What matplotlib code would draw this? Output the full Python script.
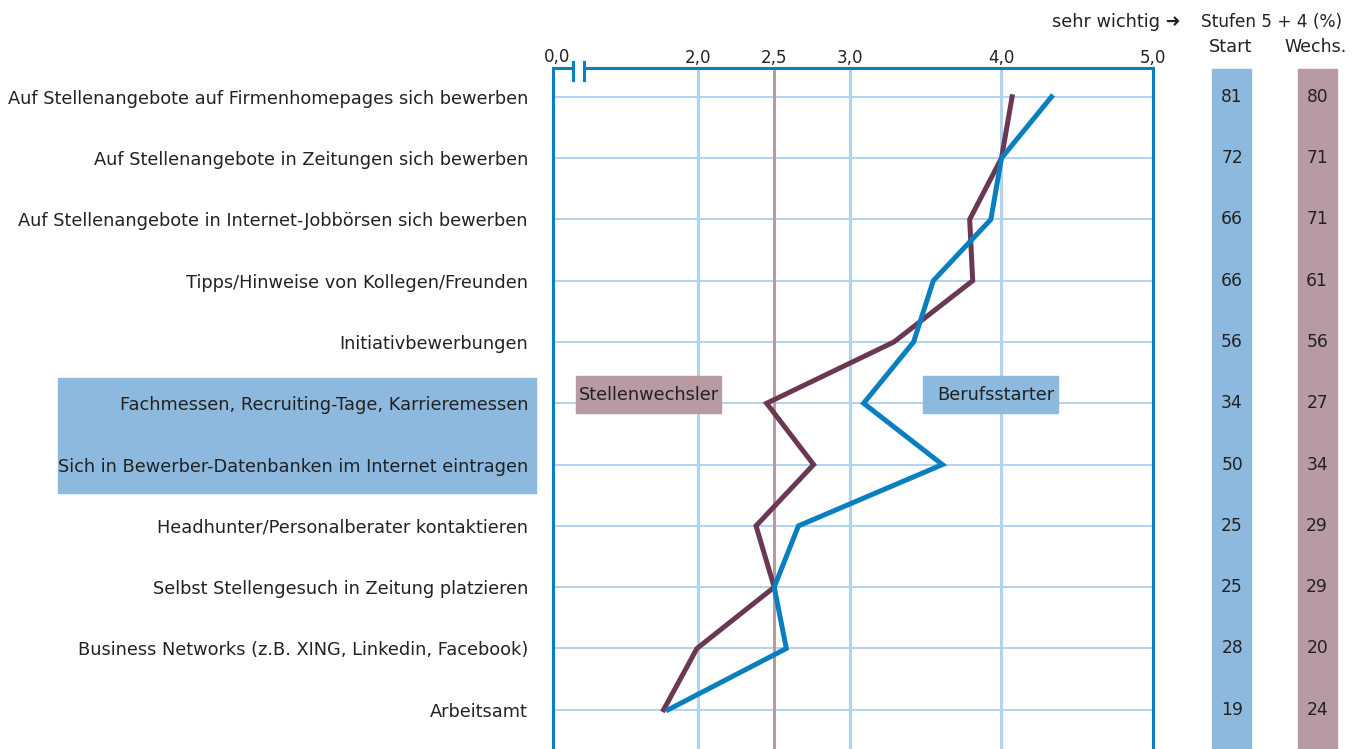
# Stellensuche: Berufsstarter vs. Stellenwechsler, Mittelwerte und Stufen 5 + 4
import matplotlib.pyplot as plt
from matplotlib.patches import Rectangle
from matplotlib.lines import Line2D
import matplotlib.transforms as mtransforms

plt.rcParams['font.family'] = ['DejaVu Sans']

# Data
categories = [
    'Auf Stellenangebote auf Firmenhomepages sich bewerben',
    'Auf Stellenangebote in Zeitungen sich bewerben',
    'Auf Stellenangebote in Internet-Jobbörsen sich bewerben',
    'Tipps/Hinweise von Kollegen/Freunden',
    'Initiativbewerbungen',
    'Fachmessen, Recruiting-Tage, Karrieremessen',
    'Sich in Bewerber-Datenbanken im Internet eintragen',
    'Headhunter/Personalberater kontaktieren',
    'Selbst Stellengesuch in Zeitung platzieren',
    'Business Networks (z.B. XING, Linkedin, Facebook)',
    'Arbeitsamt',
]
berufsstarter = [4.33, 4.00, 3.93, 3.55, 3.42, 3.09, 3.61, 2.66, 2.50, 2.58, 1.80]
stellenwechsler = [4.07, 4.00, 3.79, 3.81, 3.29, 2.45, 2.76, 2.38, 2.50, 1.99, 1.77]
pct_start = [81, 72, 66, 66, 56, 34, 50, 25, 25, 28, 19]
pct_wechs = [80, 71, 71, 61, 56, 27, 34, 29, 29, 20, 24]
xticks = [2.0, 2.5, 3.0, 4.0, 5.0]
xticklabels = ['2,0', '2,5', '3,0', '4,0', '5,0']

BLUE = '#0a7fc0'
PURPLE = '#6b3854'
LIGHTBLUE = '#8cb9dd'
MAUVE = '#b79aa2'
GRID = '#b3d2ec'
TXT = '#222222'

W, H = 1361, 749
fig = plt.figure(figsize=(W / 100, H / 100), dpi=100)


def fx(px):
    return px / W


def fy(py):
    return 1 - py / H


ax = fig.add_axes([fx(553), 0, fx(1153) - fx(553), fy(68)])
ax.set_xlim(1.04, 5.0)
ax.set_ylim(10.64, -0.47)

rows = list(range(len(categories)))

# grid
for r in rows:
    ax.axhline(r, color=GRID, lw=1.4, zorder=1)
for x in [2.0, 3.0, 4.0]:
    ax.axvline(x, color=GRID, lw=2.2, zorder=1)
ax.axvline(2.5, color=MAUVE, lw=2.2, zorder=1)

# lines
ax.plot(stellenwechsler, rows, color=PURPLE, lw=3.6, zorder=3, solid_joinstyle='miter')
ax.plot(berufsstarter, rows, color=BLUE, lw=3.6, zorder=3, solid_joinstyle='miter')

# spines
for s in ['top', 'left', 'right']:
    ax.spines[s].set_color(BLUE)
    ax.spines[s].set_linewidth(2.2)
ax.spines['bottom'].set_visible(False)

ax.xaxis.tick_top()
ax.set_xticks(xticks)
ax.set_xticklabels(xticklabels, fontsize=12, color=TXT)
ax.tick_params(axis='x', length=0, pad=1)

ax.set_yticks(rows)
ax.set_yticklabels(categories, fontsize=12.8, color=TXT)
ax.tick_params(axis='y', length=0, pad=18)

# axis break near "0,0"
fig.patches.append(Rectangle((fx(574), fy(71)), fx(583) - fx(574), fy(65) - fy(71),
                             transform=fig.transFigure, color='white', zorder=5))
for px in [573, 584]:
    fig.lines.append(Line2D([fx(px), fx(px)], [fy(62), fy(80)], transform=fig.transFigure,
                            color=BLUE, lw=2.2, zorder=6))
fig.text(fx(557), fy(57), '0,0', ha='center', va='center', fontsize=12, color=TXT)

# highlighted rows (behind the labels)
fig.patches.append(Rectangle((fx(58), fy(493)), fx(536) - fx(58), fy(378) - fy(493),
                             transform=fig.transFigure, color=LIGHTBLUE, zorder=-1))

# series labels
fig.patches.append(Rectangle((fx(576), fy(413)), fx(721) - fx(576), fy(376) - fy(413),
                             transform=fig.transFigure, color=MAUVE, zorder=4))
fig.text(fx(648.5), fy(394.5), 'Stellenwechsler', ha='center', va='center',
         fontsize=12.8, color=TXT, zorder=7)
fig.patches.append(Rectangle((fx(923), fy(413)), fx(1058) - fx(923), fy(376) - fy(413),
                             transform=fig.transFigure, color=LIGHTBLUE, zorder=4))
fig.text(fx(996), fy(394.5), 'Berufsstarter', ha='center', va='center',
         fontsize=12.8, color=TXT, zorder=7)

# percentage columns
fig.patches.append(Rectangle((fx(1212), 0), fx(1251) - fx(1212), fy(69),
                             transform=fig.transFigure, color=LIGHTBLUE, zorder=-1))
fig.patches.append(Rectangle((fx(1298), 0), fx(1337) - fx(1298), fy(69),
                             transform=fig.transFigure, color=MAUVE, zorder=-1))
trans = mtransforms.blended_transform_factory(fig.transFigure, ax.transData)
for r, a, b in zip(rows, pct_start, pct_wechs):
    fig.text(fx(1243), r, str(a), transform=trans, ha='right', va='center',
             fontsize=12.3, color=TXT)
    fig.text(fx(1328), r, str(b), transform=trans, ha='right', va='center',
             fontsize=12.3, color=TXT)

# header
fig.text(fx(1181), fy(22), 'sehr wichtig \u279c', ha='right', va='center', fontsize=12.8, color=TXT)
fig.text(fx(1201), fy(22), 'Stufen 5 + 4 (%)', ha='left', va='center', fontsize=12.2, color=TXT)
fig.text(fx(1231), fy(47), 'Start', ha='center', va='center', fontsize=12.8, color=TXT)
fig.text(fx(1316), fy(47), 'Wechs.', ha='center', va='center', fontsize=12.5, color=TXT)

fig.savefig('out.png', dpi=100)
